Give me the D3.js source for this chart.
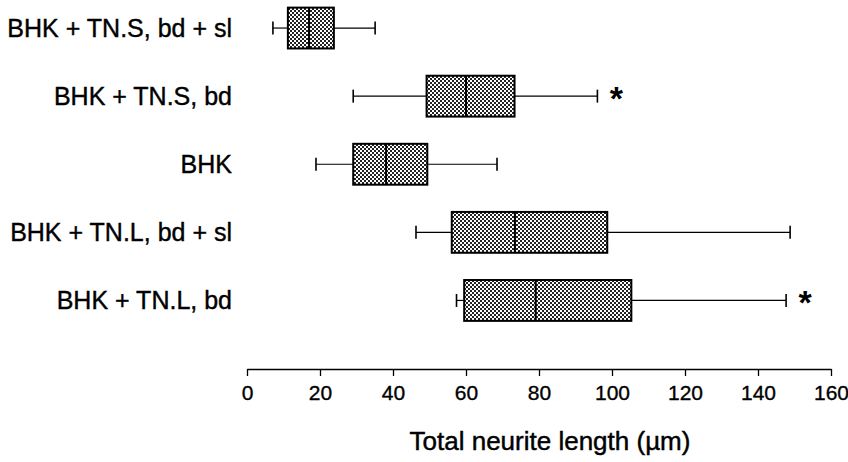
<!DOCTYPE html>
<html>
<head>
<meta charset="utf-8">
<script src="https://cdn.jsdelivr.net/npm/d3@7"></script>
<style>
  html, body { margin: 0; padding: 0; background: #fff; }
  svg { display: block; }
  text { font-family: "Liberation Sans", Arial, sans-serif; fill: #000; }
</style>
</head>
<body>
<svg id="chart" width="848" height="462"></svg>
<script>
// ---- data ----
const categories = ["BHK + TN.S, bd + sl", "BHK + TN.S, bd", "BHK", "BHK + TN.L, bd + sl", "BHK + TN.L, bd"];
const whiskerLow  = [7.1, 29.1, 18.9, 46.3, 57.4];
const q1Values    = [11.2, 49.2, 29.1, 56.1, 59.5];
const medians     = [17.0, 60.0, 38.1, 73.4, 79.1];
const q3Values    = [23.8, 73.3, 49.4, 98.7, 105.3];
const whiskerHigh = [35.1, 96.0, 68.5, 148.8, 147.7];
const significant = [false, true, false, false, true];
const xTicks = [0, 20, 40, 60, 80, 100, 120, 140, 160];
const xTitle = "Total neurite length (\u00b5m)";

const rows = categories.map((c, i) => ({
  cat: c, lo: whiskerLow[i], q1: q1Values[i], med: medians[i],
  q3: q3Values[i], hi: whiskerHigh[i], sig: significant[i]
}));

const svg = d3.select("#chart");

// pattern fill (stippled grey)
const defs = svg.append("defs");
const pat = defs.append("pattern")
  .attr("id", "stipple").attr("patternUnits", "userSpaceOnUse")
  .attr("width", 4).attr("height", 4);
pat.append("rect").attr("width", 4).attr("height", 4).attr("fill", "#fff");
pat.append("rect").attr("x", 0).attr("y", 0).attr("width", 2).attr("height", 2).attr("fill", "#222");
pat.append("rect").attr("x", 2).attr("y", 2).attr("width", 2).attr("height", 2).attr("fill", "#222");

const x = d3.scaleLinear().domain([0, 160]).range([247, 831]);
const y = d3.scaleBand().domain(categories).range([-6, 334.5])
  .paddingInner(0.4).paddingOuter(0.2);
const bw = y.bandwidth();
const capH = 13;

const g = svg.append("g");
const box = g.selectAll("g.box").data(rows).join("g").attr("class", "box");

// whiskers
box.append("line")
  .attr("x1", d => x(d.lo)).attr("x2", d => x(d.q1))
  .attr("y1", d => y(d.cat) + bw / 2).attr("y2", d => y(d.cat) + bw / 2)
  .attr("stroke", "#000").attr("stroke-width", 1.2);
box.append("line")
  .attr("x1", d => x(d.q3)).attr("x2", d => x(d.hi))
  .attr("y1", d => y(d.cat) + bw / 2).attr("y2", d => y(d.cat) + bw / 2)
  .attr("stroke", "#000").attr("stroke-width", 1.2);
// caps
box.append("line")
  .attr("x1", d => x(d.lo)).attr("x2", d => x(d.lo))
  .attr("y1", d => y(d.cat) + bw / 2 - capH / 2).attr("y2", d => y(d.cat) + bw / 2 + capH / 2)
  .attr("stroke", "#000").attr("stroke-width", 1.6);
box.append("line")
  .attr("x1", d => x(d.hi)).attr("x2", d => x(d.hi))
  .attr("y1", d => y(d.cat) + bw / 2 - capH / 2).attr("y2", d => y(d.cat) + bw / 2 + capH / 2)
  .attr("stroke", "#000").attr("stroke-width", 1.6);
// boxes
box.append("rect")
  .attr("x", d => x(d.q1)).attr("width", d => x(d.q3) - x(d.q1))
  .attr("y", d => y(d.cat)).attr("height", bw)
  .attr("fill", "url(#stipple)").attr("stroke", "#000").attr("stroke-width", 2);
// medians
box.append("line")
  .attr("x1", d => x(d.med)).attr("x2", d => x(d.med))
  .attr("y1", d => y(d.cat)).attr("y2", d => y(d.cat) + bw)
  .attr("stroke", "#000").attr("stroke-width", 2);
// significance stars
box.filter(d => d.sig).append("text")
  .attr("x", d => x(d.hi) + 19).attr("y", d => y(d.cat) + bw / 2 + 14)
  .attr("text-anchor", "middle").attr("font-size", 34).attr("font-weight", "bold")
  .text("*");

// category labels
g.selectAll("text.cat").data(categories).join("text").attr("class", "cat")
  .attr("x", 232).attr("y", d => y(d) + bw / 2)
  .attr("dy", "0.36em").attr("text-anchor", "end")
  .attr("font-size", 25).attr("stroke", "#000").attr("stroke-width", 0.4)
  .text(d => d);

// x axis
const axis = d3.axisBottom(x).tickValues(xTicks).tickSizeInner(7).tickSizeOuter(0).tickPadding(9);
const ax = svg.append("g").attr("transform", "translate(0,369)").call(axis);
ax.select(".domain").attr("stroke", "#000").attr("stroke-width", 1.3);
ax.selectAll(".tick line").attr("stroke", "#000").attr("stroke-width", 1.3);
ax.selectAll(".tick text").attr("font-size", 21).attr("font-family", "Liberation Sans, Arial, sans-serif")
  .attr("fill", "#000").attr("stroke", "#000").attr("stroke-width", 0.35);

svg.append("text")
  .attr("x", (x(0) + x(160)) / 2 + 11).attr("y", 450)
  .attr("text-anchor", "middle").attr("font-size", 26)
  .attr("stroke", "#000").attr("stroke-width", 0.45)
  .text(xTitle);
</script>
</body>
</html>
